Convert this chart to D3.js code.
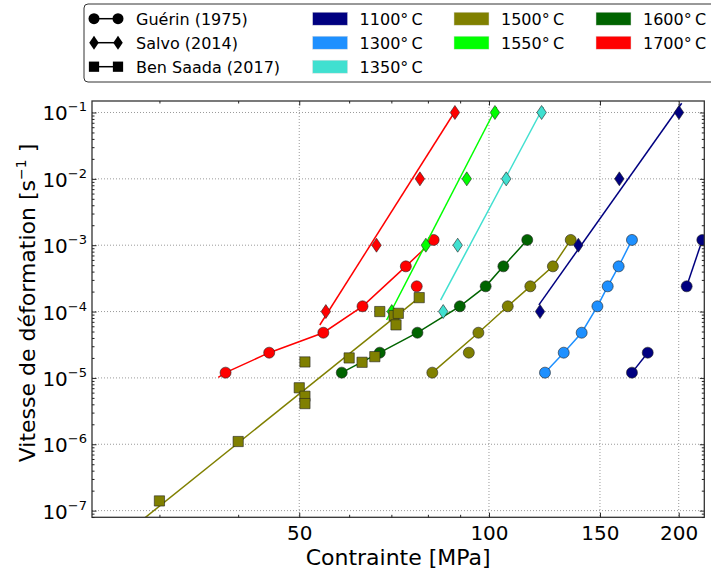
<!DOCTYPE html>
<html><head><meta charset="utf-8">
<script src="https://cdn.jsdelivr.net/npm/d3@7"></script>
<style>
body{margin:0;background:#fff}
svg{display:block}
text{font-family:"DejaVu Sans",sans-serif;fill:#000}
</style>
</head><body>
<svg id="chart" width="711" height="574"></svg>
<script>
// ---------------- data ----------------
const temps = ["1100","1300","1350","1500","1550","1600","1700"];
const tempColors = ["#000080","#1E90FF","#40E0D0","#808000","#00FF00","#006400","#FF0000"];

// Guérin (1975): [stress MPa, strain rate s^-1]
const guerin1100 = [[168.6,1.2e-5],[178.6,2.4e-5],[205.9,2.4e-4],[218.0,1.2e-3]];
const guerin1100Curves = [[[168.6,1.2e-5],[178.6,2.4e-5]],[[205.9,2.4e-4],[218.0,1.2e-3]]];
const guerin1300 = [[122.7,1.2e-5],[131.4,2.4e-5],[140.3,4.8e-5],[148.6,1.2e-4],[154.3,2.4e-4],[160.6,4.8e-4],[168.6,1.2e-3]];
const guerin1300Curves = [guerin1300];
const guerin1500 = [[81.3,1.2e-5],[92.9,2.4e-5],[96.2,4.8e-5],[107.1,1.2e-4],[116.3,2.4e-4],[126.3,4.8e-4],[134.8,1.2e-3]];
const guerin1500Curves = [[[81.3,1.2e-5],[96.2,4.8e-5],[107.1,1.2e-4],[116.3,2.4e-4],[126.3,4.8e-4],[134.8,1.2e-3]]];
const guerin1600 = [[58.4,1.2e-5],[67.1,2.4e-5],[77.0,4.8e-5],[89.9,1.2e-4],[98.8,2.4e-4],[105.4,4.8e-4],[115.0,1.2e-3]];
const guerin1600Curves = [guerin1600];
const guerin1700 = [[38.2,1.2e-5],[44.8,2.4e-5],[54.6,4.8e-5],[63.0,1.2e-4],[76.8,2.4e-4],[73.8,4.8e-4],[81.7,1.2e-3]];
const guerin1700Curves = [[[37.2,1.02e-5],[38.2,1.2e-5],[44.8,2.4e-5],[54.6,4.8e-5],[63.0,1.2e-4],[73.8,4.8e-4],[81.7,1.2e-3]]];

// Salvo (2014): stress at the strain rates below, plus fit lines
const salvoRates = [1e-4,1e-3,1e-2,1e-1];
const salvo1100 = [120.5,138.6,161.0,200.2];
const salvo1350 = [84.6,89.2,106.5,121.2];
const salvo1550 = [70.1,79.4,92.2,102.2];
const salvo1700 = [55.1,66.3,77.7,88.3];
const salvo1100Fit = [[120.0,1.26e-4],[202.2,0.138]];
const salvo1350Fit = [[83.8,1.49e-4],[122.0,0.121]];
const salvo1550Fit = [[68.8,7.46e-5],[102.8,0.121]];
const salvo1700Fit = [[53.9,6.27e-5],[88.6,0.109]];

// Ben Saada (2017), 1500 °C
const benSaada1500 = [[30.0,1.4e-7],[40.0,1.1e-6],[50.0,7.1e-6],[51.05,5.3e-6],[51.05,4.1e-6],[51.05,1.74e-5],
  [60.0,2.0e-5],[62.9,1.72e-5],[65.9,2.09e-5],[67.1,1.0e-4],[70.7,8.7e-5],[71.2,6.3e-5],[71.8,9.4e-5],[77.5,1.62e-4]];
const benSaada1500Fit = [[28.0,6.9e-8],[77.5,1.62e-4]];

// axes
const xLimits = [23.45, 219.6];
const yLimits = [7.93e-8, 0.149];
const xMajorTicks = [50,100,150,200];
const xMinorTicks = [30,40,60,70,80,90];
const yMajorExponents = [-7,-6,-5,-4,-3,-2,-1];

const legendSources = ["Guérin (1975)","Salvo (2014)","Ben Saada (2017)"];
const legendShapes = ["circle","diamond","square"];
const legendCols = [["1100","1300","1350"],["1500","1550"],["1600","1700"]];

// ---------------- layout ----------------
const L = 92, R = 704.3, T = 101, B = 517.3;
const svg = d3.select("#chart");
const x = d3.scaleLog().domain(xLimits).range([L, R]);
const y = d3.scaleLog().domain(yLimits).range([B, T]);
const colorOf = d3.scaleOrdinal().domain(temps).range(tempColors);

svg.append("rect").attr("width",711).attr("height",574).attr("fill","#fff");

// grid
const grid = svg.append("g");
grid.selectAll("line.gx").data(xMajorTicks).join("line")
  .attr("x1",d=>x(d)).attr("x2",d=>x(d)).attr("y1",T).attr("y2",B)
  .attr("stroke","#000").attr("stroke-opacity",0.5).attr("stroke-width",0.8).attr("stroke-dasharray","1,2");
grid.selectAll("line.gy").data(yMajorExponents).join("line")
  .attr("y1",d=>y(Math.pow(10,d))).attr("y2",d=>y(Math.pow(10,d))).attr("x1",L).attr("x2",R)
  .attr("stroke","#000").attr("stroke-opacity",0.5).attr("stroke-width",0.8).attr("stroke-dasharray","1,2");

// clip
svg.append("clipPath").attr("id","clip").append("rect").attr("x",L).attr("y",T).attr("width",R-L).attr("height",B-T);
const plot = svg.append("g").attr("clip-path","url(#clip)");

const line = d3.line().x(d=>x(d[0])).y(d=>y(d[1]));
const diamondPath = (w,h)=>`M0,${-h/2}L${w/2},0L0,${h/2}L${-w/2},0Z`;
const squareSym = d3.symbol(d3.symbolSquare, 105)();
const DW = 9.5, DH = 14;

function drawMarkers(g, pts, shape, color){
  if(shape==="circle"){
    g.selectAll(null).data(pts).join("circle")
      .attr("cx",d=>x(d[0])).attr("cy",d=>y(d[1])).attr("r",5.5)
      .attr("fill",color).attr("stroke","#222").attr("stroke-width",0.6);
  } else if(shape==="diamond"){
    g.selectAll(null).data(pts).join("path")
      .attr("transform",d=>`translate(${x(d[0])},${y(d[1])})`).attr("d",diamondPath(DW,DH))
      .attr("fill",color).attr("stroke","#222").attr("stroke-width",0.6);
  } else {
    g.selectAll(null).data(pts).join("path")
      .attr("transform",d=>`translate(${x(d[0])},${y(d[1])})`).attr("d",squareSym)
      .attr("fill",color).attr("stroke","#222").attr("stroke-width",0.6);
  }
}
function drawCurves(g, curves, color){
  g.selectAll(null).data(curves).join("path").attr("d",line)
    .attr("fill","none").attr("stroke",color).attr("stroke-width",1.5);
}

// Guérin
const guerinSets = [["1700",guerin1700,guerin1700Curves],["1600",guerin1600,guerin1600Curves],
  ["1500",guerin1500,guerin1500Curves],["1300",guerin1300,guerin1300Curves],["1100",guerin1100,guerin1100Curves]];
guerinSets.forEach(([t,pts,curves])=>{
  const g = plot.append("g");
  drawCurves(g, curves, colorOf(t));
  drawMarkers(g, pts, "circle", colorOf(t));
});
// Salvo
const salvoSets = [["1700",salvo1700,salvo1700Fit],["1550",salvo1550,salvo1550Fit],
  ["1350",salvo1350,salvo1350Fit],["1100",salvo1100,salvo1100Fit]];
salvoSets.forEach(([t,stress,fit])=>{
  const g = plot.append("g");
  drawCurves(g, [fit], colorOf(t));
  drawMarkers(g, stress.map((s,i)=>[s,salvoRates[i]]), "diamond", colorOf(t));
});
// Ben Saada
{
  const g = plot.append("g");
  drawCurves(g, [benSaada1500Fit], colorOf("1500"));
  drawMarkers(g, benSaada1500, "square", colorOf("1500"));
}

// frame
svg.append("rect").attr("x",L).attr("y",T).attr("width",R-L).attr("height",B-T)
  .attr("fill","none").attr("stroke","#333").attr("stroke-width",1.3);

// ticks
const yMinor = [];
for(let e=-8;e<=-1;e++) for(let m=2;m<=9;m++){ const v=m*Math.pow(10,e); if(v>yLimits[0]&&v<yLimits[1]) yMinor.push(v); }
const yMajor = yMajorExponents.map(e=>Math.pow(10,e));
function styleAxis(g){ g.select(".domain").remove(); g.selectAll(".tick line").attr("stroke","#222").attr("stroke-width",1); }

const gxb = svg.append("g").attr("transform",`translate(0,${B})`)
  .call(d3.axisBottom(x).tickValues(xMajorTicks).tickSize(-4.5).tickPadding(8.5).tickFormat(d3.format("d")));
gxb.call(styleAxis);
gxb.selectAll(".tick text").attr("font-size",20).attr("font-family","DejaVu Sans").attr("fill","#000");
svg.append("g").attr("transform",`translate(0,${B})`).call(d3.axisBottom(x).tickValues(xMinorTicks).tickSize(-2.5).tickFormat("")).call(styleAxis);
svg.append("g").attr("transform",`translate(0,${T})`).call(d3.axisTop(x).tickValues(xMajorTicks).tickSize(-4.5).tickFormat("")).call(styleAxis);
svg.append("g").attr("transform",`translate(0,${T})`).call(d3.axisTop(x).tickValues(xMinorTicks).tickSize(-2.5).tickFormat("")).call(styleAxis);

const gyl = svg.append("g").attr("transform",`translate(${L},0)`)
  .call(d3.axisLeft(y).tickValues(yMajor).tickSize(-4.5).tickFormat(""));
gyl.call(styleAxis);
gyl.selectAll(".tick").each(function(d){
  const t = d3.select(this).append("text").attr("x",-5).attr("y",7.5).attr("text-anchor","end").attr("fill","#000");
  t.append("tspan").attr("font-size",20).text("10");
  t.append("tspan").attr("font-size",13).attr("dy",-9).text("\u2212"+Math.round(-Math.log10(d)));
});
svg.append("g").attr("transform",`translate(${L},0)`).call(d3.axisLeft(y).tickValues(yMinor).tickSize(-2.5).tickFormat("")).call(styleAxis);
svg.append("g").attr("transform",`translate(${R},0)`).call(d3.axisRight(y).tickValues(yMajor).tickSize(-4.5).tickFormat("")).call(styleAxis);
svg.append("g").attr("transform",`translate(${R},0)`).call(d3.axisRight(y).tickValues(yMinor).tickSize(-2.5).tickFormat("")).call(styleAxis);

// axis labels
svg.append("text").attr("x",(L+R)/2).attr("y",565).attr("text-anchor","middle").attr("font-size",22).text("Contrainte [MPa]");
const yl = svg.append("text").attr("transform","translate(35,303) rotate(-90)").attr("text-anchor","middle").attr("font-size",22);
yl.append("tspan").text("Vitesse de déformation [s");
yl.append("tspan").attr("font-size",14).attr("dy",-9).text("\u22121");
yl.append("tspan").attr("dy",9).text(" ]");

// legend
const lg = svg.append("g");
lg.append("rect").attr("x",84).attr("y",4).attr("width",660).attr("height",78).attr("rx",4)
  .attr("fill","#fff").attr("stroke","#333").attr("stroke-width",1);
const rowY = [18.7,42.7,66.7];
legendSources.forEach((name,i)=>{
  const g = lg.append("g");
  g.append("line").attr("x1",94).attr("x2",118).attr("y1",rowY[i]).attr("y2",rowY[i]).attr("stroke","#000").attr("stroke-width",1.5);
  [[94,rowY[i]],[118,rowY[i]]].forEach(p=>{
    if(legendShapes[i]==="circle") g.append("circle").attr("cx",p[0]).attr("cy",p[1]).attr("r",5.5).attr("fill","#000");
    else if(legendShapes[i]==="diamond") g.append("path").attr("transform",`translate(${p[0]},${p[1]})`).attr("d",diamondPath(DW,DH)).attr("fill","#000");
    else g.append("path").attr("transform",`translate(${p[0]},${p[1]})`).attr("d",squareSym).attr("fill","#000");
  });
  g.append("text").attr("x",136).attr("y",rowY[i]+6).attr("font-size",16).text(name);
});
const colX = [312.6,454,596];
legendCols.forEach((col,ci)=>{
  col.forEach((t,ri)=>{
    lg.append("rect").attr("x",colX[ci]).attr("y",rowY[ri]-6.5).attr("width",35).attr("height",13)
      .attr("fill",colorOf(t)).attr("stroke","#ddd").attr("stroke-width",0.5);
    lg.append("text").attr("x",colX[ci]+47).attr("y",rowY[ri]+6).attr("font-size",16).text(t+"°\u2009C");
  });
});
</script>
</body></html>
